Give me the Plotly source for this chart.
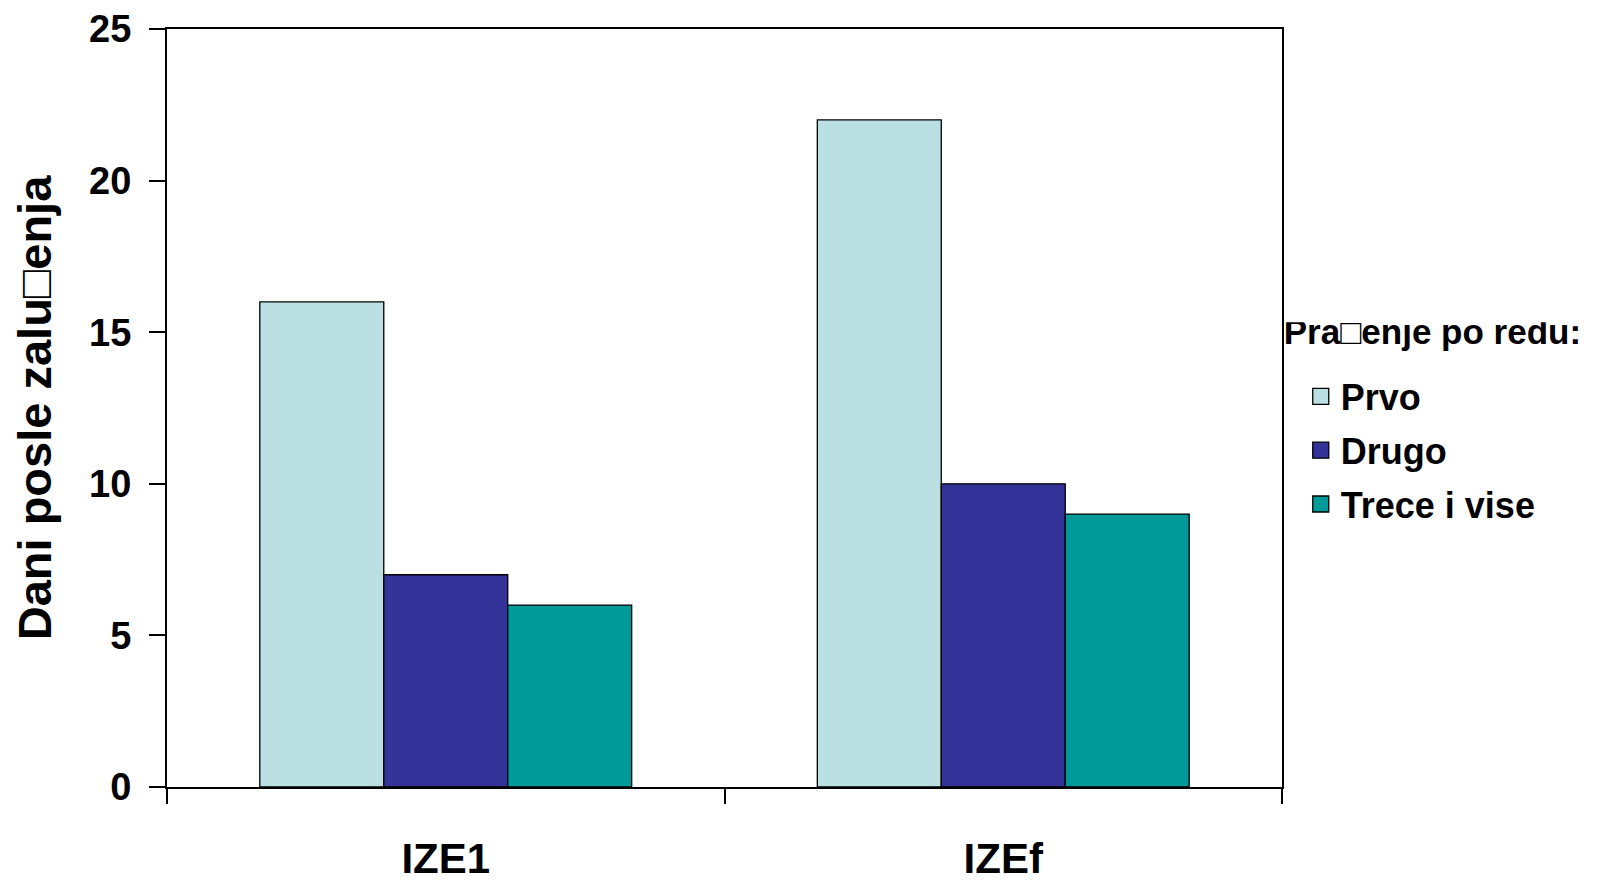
import plotly.graph_objects as go

categories = ["IZE1", "IZEf"]
series_names = ["Prvo", "Drugo", "Trece i vise"]
prvo = [16, 22]
drugo = [7, 10]
trece = [6, 9]
values = [prvo, drugo, trece]
colors = ["#BBE0E3", "#333399", "#009999"]
y_ticks = [0, 5, 10, 15, 20, 25]
legend_title = "Pra□enje po redu:"
y_title = "Dani posle zalu□enja"

FONT = "Liberation Sans, Arial, sans-serif"

fig = go.Figure()
for name, vals, col in zip(series_names, values, colors):
    fig.add_trace(go.Bar(
        x=categories, y=vals, name=name, showlegend=False,
        marker=dict(color=col, line=dict(color="black", width=1.3)),
    ))
# legend entries with larger square swatches
for name, col in zip(series_names, colors):
    fig.add_trace(go.Scatter(
        x=[None], y=[None], mode="markers", name=name, legendgroup=name,
        marker=dict(symbol="square", size=18, color=col,
                    line=dict(color="black", width=1.3)),
    ))

fig.update_layout(
    width=1590, height=875,
    paper_bgcolor="white", plot_bgcolor="white",
    margin=dict(l=159, r=316, t=21, b=96, autoexpand=False),
    barmode="group", bargap=0.333, bargroupgap=0,
    font=dict(family=FONT, color="black"),
    legend=dict(
        x=0.9926, xanchor="left", y=0.6236, yanchor="top", xref="paper",
        title=dict(text="<span style='font-size:35px'>" + legend_title + "</span><br> ",
                   font=dict(size=17, weight="bold", family=FONT)),
        font=dict(size=36, weight="bold", family=FONT),
        bgcolor="rgba(0,0,0,0)", borderwidth=8, bordercolor="rgba(0,0,0,0)",
        itemwidth=30, tracegroupgap=4, traceorder="grouped", indentation=19,
    ),
)
fig.update_xaxes(
    type="category",
    showline=True, linecolor="black", linewidth=2, mirror=True,
    ticks="outside", tickson="boundaries", ticklen=15, tickwidth=1.5, tickcolor="black",
    tickfont=dict(size=42, weight="bold", family=FONT),
    ticklabelstandoff=34,
    showgrid=False, zeroline=False,
)
fig.update_yaxes(
    range=[0, 25], tickvals=y_ticks,
    showline=True, linecolor="black", linewidth=2, mirror=True,
    ticks="outside", ticklen=16, tickwidth=1.5, tickcolor="black",
    tickfont=dict(size=38, weight="bold", family=FONT),
    ticklabelstandoff=10, ticklabeloverflow="allow",
    showgrid=False, zeroline=False,
    title=dict(text=y_title, standoff=35, font=dict(size=47, weight="bold", family=FONT)),
)

fig.write_html("out.html")
